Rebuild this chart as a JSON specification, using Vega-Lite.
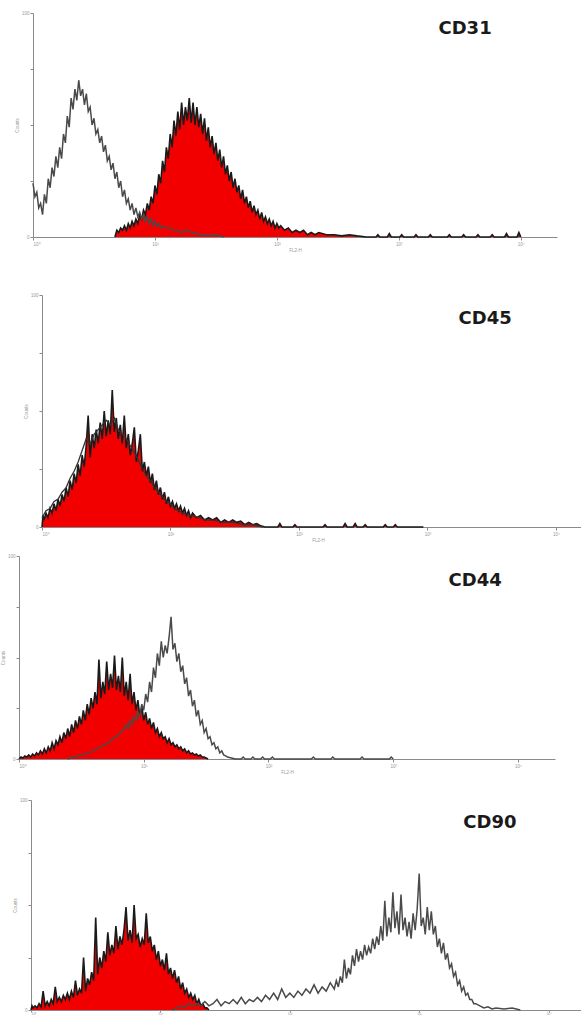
{
  "$schema": "https://vega.github.io/schema/vega-lite/v6.json",
  "padding": 0,
  "autosize": {"type": "pad"},
  "spacing": 0,
  "bounds": "flush",
  "background": "white",
  "config": {
    "view": {"stroke": null},
    "axis": {
      "grid": false,
      "domainColor": "#8a8a8a",
      "tickColor": "#8a8a8a",
      "tickSize": 3,
      "labelFontSize": 4.5,
      "labelColor": "#999999",
      "labelPadding": 1,
      "titleFontSize": 4.5,
      "titleColor": "#999999",
      "titleFontWeight": "normal",
      "titlePadding": 2
    },
    "text": {"font": "DejaVu Sans", "fontWeight": "bold", "fontSize": 18, "color": "#1a1a1a"}
  },
  "datasets": {
    "cd31_open": [
      {"ch":0,"n":24},{"ch":4,"n":18},{"ch":8,"n":20},{"ch":12,"n":13},{"ch":16,"n":15},{"ch":20,"n":10},{"ch":24,"n":19},{"ch":28,"n":15},{"ch":32,"n":26},{"ch":36,"n":22},
      {"ch":40,"n":31},{"ch":44,"n":27},{"ch":48,"n":36},{"ch":52,"n":31},{"ch":56,"n":40},{"ch":60,"n":35},{"ch":64,"n":46},{"ch":68,"n":42},{"ch":72,"n":54},{"ch":76,"n":49},
      {"ch":80,"n":62},{"ch":84,"n":57},{"ch":88,"n":66},{"ch":92,"n":61},{"ch":96,"n":70},{"ch":100,"n":63},{"ch":104,"n":66},{"ch":108,"n":59},{"ch":112,"n":64},{"ch":116,"n":56},
      {"ch":120,"n":58},{"ch":124,"n":50},{"ch":128,"n":53},{"ch":132,"n":46},{"ch":136,"n":48},{"ch":140,"n":42},{"ch":144,"n":45},{"ch":148,"n":38},{"ch":152,"n":41},{"ch":156,"n":34},
      {"ch":160,"n":36},{"ch":164,"n":30},{"ch":168,"n":33},{"ch":172,"n":26},{"ch":176,"n":29},{"ch":180,"n":22},{"ch":184,"n":25},{"ch":188,"n":18},{"ch":192,"n":21},{"ch":196,"n":15},
      {"ch":200,"n":17},{"ch":204,"n":12},{"ch":208,"n":15},{"ch":212,"n":10},{"ch":216,"n":13},{"ch":220,"n":9},{"ch":224,"n":11},{"ch":228,"n":8},{"ch":232,"n":10},{"ch":236,"n":7},
      {"ch":240,"n":9},{"ch":244,"n":6},{"ch":248,"n":8},{"ch":252,"n":5},{"ch":256,"n":7},{"ch":260,"n":5},{"ch":264,"n":6},{"ch":268,"n":4},{"ch":272,"n":5},{"ch":280,"n":4},
      {"ch":288,"n":4},{"ch":296,"n":3},{"ch":304,"n":3},{"ch":312,"n":2},{"ch":320,"n":3},{"ch":336,"n":2},{"ch":352,"n":1},{"ch":368,"n":1},{"ch":384,"n":1},{"ch":400,"n":0}
    ],
    "cd31_filled": [
      {"ch":172,"n":0},{"ch":176,"n":3},{"ch":180,"n":2},{"ch":184,"n":4},{"ch":188,"n":3},{"ch":192,"n":5},{"ch":196,"n":3},{"ch":200,"n":6},{"ch":204,"n":4},{"ch":208,"n":7},
      {"ch":212,"n":5},{"ch":216,"n":8},{"ch":220,"n":6},{"ch":224,"n":10},{"ch":228,"n":8},{"ch":232,"n":12},{"ch":236,"n":10},{"ch":240,"n":15},{"ch":244,"n":12},{"ch":248,"n":18},
      {"ch":252,"n":15},{"ch":256,"n":23},{"ch":260,"n":19},{"ch":264,"n":28},{"ch":268,"n":24},{"ch":272,"n":34},{"ch":276,"n":29},{"ch":280,"n":40},{"ch":284,"n":35},{"ch":288,"n":46},
      {"ch":292,"n":40},{"ch":296,"n":52},{"ch":300,"n":45},{"ch":304,"n":56},{"ch":308,"n":48},{"ch":312,"n":60},{"ch":316,"n":50},{"ch":320,"n":58},{"ch":324,"n":52},{"ch":328,"n":62},
      {"ch":332,"n":51},{"ch":336,"n":60},{"ch":340,"n":50},{"ch":344,"n":58},{"ch":348,"n":49},{"ch":352,"n":55},{"ch":356,"n":46},{"ch":360,"n":53},{"ch":364,"n":43},{"ch":368,"n":49},
      {"ch":372,"n":40},{"ch":376,"n":45},{"ch":380,"n":37},{"ch":384,"n":42},{"ch":388,"n":34},{"ch":392,"n":39},{"ch":396,"n":31},{"ch":400,"n":36},{"ch":404,"n":28},{"ch":408,"n":32},
      {"ch":412,"n":25},{"ch":416,"n":29},{"ch":420,"n":22},{"ch":424,"n":26},{"ch":428,"n":20},{"ch":432,"n":23},{"ch":436,"n":17},{"ch":440,"n":21},{"ch":444,"n":15},{"ch":448,"n":18},
      {"ch":452,"n":13},{"ch":456,"n":16},{"ch":460,"n":11},{"ch":464,"n":14},{"ch":468,"n":10},{"ch":472,"n":12},{"ch":476,"n":8},{"ch":480,"n":11},{"ch":484,"n":7},{"ch":488,"n":9},
      {"ch":492,"n":6},{"ch":496,"n":8},{"ch":500,"n":5},{"ch":504,"n":7},{"ch":508,"n":4},{"ch":512,"n":6},{"ch":516,"n":4},{"ch":520,"n":5},{"ch":528,"n":3},{"ch":536,"n":4},
      {"ch":544,"n":2},{"ch":552,"n":3},{"ch":560,"n":2},{"ch":568,"n":3},{"ch":576,"n":1},{"ch":584,"n":2},{"ch":592,"n":1},{"ch":600,"n":2},{"ch":616,"n":1},{"ch":632,"n":1},
      {"ch":648,"n":0.5},{"ch":664,"n":1},{"ch":680,"n":0.5},{"ch":700,"n":0},{"ch":720,"n":0},{"ch":724,"n":1},{"ch":728,"n":0},{"ch":744,"n":0},{"ch":748,"n":1.5},{"ch":752,"n":0},
      {"ch":770,"n":0},{"ch":774,"n":1},{"ch":778,"n":0},{"ch":800,"n":0},{"ch":804,"n":1},{"ch":808,"n":0},{"ch":830,"n":0},{"ch":834,"n":1},{"ch":838,"n":0},{"ch":870,"n":0},
      {"ch":874,"n":1},{"ch":878,"n":0},{"ch":900,"n":0},{"ch":904,"n":1},{"ch":908,"n":0},{"ch":930,"n":0},{"ch":934,"n":1},{"ch":938,"n":0},{"ch":960,"n":0},{"ch":964,"n":1},
      {"ch":968,"n":0},{"ch":990,"n":0},{"ch":994,"n":1.5},{"ch":998,"n":0},{"ch":1016,"n":0},{"ch":1020,"n":2},{"ch":1024,"n":0}
    ],
    "cd45_filled": [
      {"ch":0,"n":0},{"ch":2,"n":5},{"ch":4,"n":3},{"ch":8,"n":6},{"ch":12,"n":4},{"ch":16,"n":8},{"ch":20,"n":6},{"ch":24,"n":10},{"ch":28,"n":7},{"ch":32,"n":12},
      {"ch":36,"n":9},{"ch":40,"n":14},{"ch":44,"n":11},{"ch":48,"n":17},{"ch":52,"n":13},{"ch":56,"n":20},{"ch":60,"n":16},{"ch":64,"n":23},{"ch":68,"n":19},{"ch":72,"n":27},
      {"ch":76,"n":22},{"ch":80,"n":31},{"ch":84,"n":26},{"ch":88,"n":35},{"ch":92,"n":48},{"ch":96,"n":30},{"ch":100,"n":40},{"ch":104,"n":34},{"ch":108,"n":42},{"ch":112,"n":36},
      {"ch":116,"n":45},{"ch":120,"n":38},{"ch":124,"n":50},{"ch":128,"n":39},{"ch":132,"n":46},{"ch":136,"n":40},{"ch":140,"n":59},{"ch":144,"n":41},{"ch":148,"n":47},{"ch":152,"n":38},
      {"ch":156,"n":44},{"ch":160,"n":36},{"ch":164,"n":48},{"ch":168,"n":34},{"ch":172,"n":40},{"ch":176,"n":31},{"ch":180,"n":36},{"ch":184,"n":43},{"ch":188,"n":28},{"ch":192,"n":33},
      {"ch":196,"n":40},{"ch":200,"n":24},{"ch":204,"n":28},{"ch":208,"n":22},{"ch":212,"n":26},{"ch":216,"n":19},{"ch":220,"n":23},{"ch":224,"n":16},{"ch":228,"n":20},{"ch":232,"n":14},
      {"ch":236,"n":17},{"ch":240,"n":12},{"ch":244,"n":15},{"ch":248,"n":10},{"ch":252,"n":13},{"ch":256,"n":9},{"ch":260,"n":11},{"ch":264,"n":8},{"ch":268,"n":10},{"ch":272,"n":7},
      {"ch":276,"n":9},{"ch":280,"n":6},{"ch":284,"n":8},{"ch":288,"n":5},{"ch":292,"n":7},{"ch":296,"n":4},{"ch":300,"n":6},{"ch":308,"n":4},{"ch":316,"n":5},{"ch":324,"n":3},
      {"ch":332,"n":4},{"ch":340,"n":3},{"ch":348,"n":4},{"ch":356,"n":2},{"ch":364,"n":3},{"ch":372,"n":2},{"ch":380,"n":3},{"ch":388,"n":2},{"ch":396,"n":2.5},{"ch":404,"n":1},
      {"ch":412,"n":2},{"ch":420,"n":1},{"ch":428,"n":1.5},{"ch":436,"n":0.5},{"ch":444,"n":0},{"ch":470,"n":0},{"ch":474,"n":1.5},{"ch":478,"n":0},{"ch":500,"n":0},{"ch":504,"n":1},
      {"ch":508,"n":0},{"ch":560,"n":0},{"ch":564,"n":1},{"ch":568,"n":0},{"ch":600,"n":0},{"ch":604,"n":1.5},{"ch":608,"n":0},{"ch":620,"n":0},{"ch":624,"n":1.5},{"ch":628,"n":0},
      {"ch":640,"n":0},{"ch":644,"n":1},{"ch":648,"n":0},{"ch":680,"n":0},{"ch":684,"n":1},{"ch":688,"n":0},{"ch":700,"n":0},{"ch":704,"n":1},{"ch":708,"n":0},{"ch":760,"n":0}
    ],
    "cd45_open": [
      {"ch":0,"n":4},{"ch":8,"n":7},{"ch":16,"n":8},{"ch":24,"n":11},{"ch":32,"n":12},{"ch":40,"n":15},{"ch":48,"n":17},{"ch":56,"n":21},{"ch":64,"n":24},{"ch":72,"n":28},
      {"ch":80,"n":33},{"ch":88,"n":38},{"ch":96,"n":36},{"ch":104,"n":40},{"ch":112,"n":42},{"ch":120,"n":44},{"ch":128,"n":46},{"ch":136,"n":44},{"ch":144,"n":47},{"ch":152,"n":42},
      {"ch":160,"n":40},{"ch":168,"n":38},{"ch":176,"n":35},{"ch":184,"n":32},{"ch":192,"n":29},{"ch":200,"n":25},{"ch":208,"n":22},{"ch":216,"n":20},{"ch":224,"n":17},{"ch":232,"n":15},
      {"ch":240,"n":13},{"ch":248,"n":11},{"ch":256,"n":10},{"ch":264,"n":8},{"ch":272,"n":7},{"ch":280,"n":6},{"ch":296,"n":5},{"ch":312,"n":4},{"ch":328,"n":3},{"ch":344,"n":3},
      {"ch":360,"n":2},{"ch":380,"n":2},{"ch":400,"n":1},{"ch":420,"n":1},{"ch":440,"n":0}
    ],
    "cd44_filled": [
      {"ch":0,"n":0},{"ch":4,"n":1},{"ch":8,"n":0.5},{"ch":12,"n":1.5},{"ch":16,"n":1},{"ch":20,"n":2},{"ch":24,"n":1},{"ch":28,"n":2.5},{"ch":32,"n":1.5},{"ch":36,"n":3},
      {"ch":40,"n":2},{"ch":44,"n":4},{"ch":48,"n":2.5},{"ch":52,"n":5},{"ch":56,"n":3},{"ch":60,"n":6},{"ch":64,"n":4},{"ch":68,"n":8},{"ch":72,"n":5},{"ch":76,"n":9},
      {"ch":80,"n":7},{"ch":84,"n":11},{"ch":88,"n":8},{"ch":92,"n":13},{"ch":96,"n":10},{"ch":100,"n":15},{"ch":104,"n":11},{"ch":108,"n":17},{"ch":112,"n":13},{"ch":116,"n":19},
      {"ch":120,"n":15},{"ch":124,"n":21},{"ch":128,"n":17},{"ch":132,"n":24},{"ch":136,"n":19},{"ch":140,"n":27},{"ch":144,"n":22},{"ch":148,"n":30},{"ch":152,"n":25},{"ch":156,"n":33},
      {"ch":160,"n":27},{"ch":164,"n":49},{"ch":168,"n":30},{"ch":172,"n":38},{"ch":176,"n":32},{"ch":180,"n":48},{"ch":184,"n":34},{"ch":188,"n":42},{"ch":192,"n":35},{"ch":196,"n":51},
      {"ch":200,"n":34},{"ch":204,"n":41},{"ch":208,"n":33},{"ch":212,"n":50},{"ch":216,"n":31},{"ch":220,"n":38},{"ch":224,"n":29},{"ch":228,"n":42},{"ch":232,"n":27},{"ch":236,"n":33},
      {"ch":240,"n":24},{"ch":244,"n":29},{"ch":248,"n":21},{"ch":252,"n":26},{"ch":256,"n":19},{"ch":260,"n":23},{"ch":264,"n":17},{"ch":268,"n":20},{"ch":272,"n":15},{"ch":276,"n":18},
      {"ch":280,"n":13},{"ch":284,"n":15},{"ch":288,"n":11},{"ch":292,"n":13},{"ch":296,"n":10},{"ch":300,"n":11},{"ch":304,"n":8},{"ch":308,"n":10},{"ch":312,"n":7},{"ch":316,"n":8},
      {"ch":320,"n":6},{"ch":324,"n":7},{"ch":328,"n":5},{"ch":332,"n":6},{"ch":336,"n":4},{"ch":340,"n":5},{"ch":344,"n":3},{"ch":348,"n":4},{"ch":352,"n":2.5},{"ch":356,"n":3},
      {"ch":360,"n":2},{"ch":364,"n":2.5},{"ch":368,"n":1.5},{"ch":372,"n":2},{"ch":376,"n":1},{"ch":380,"n":1},{"ch":388,"n":0}
    ],
    "cd44_open": [
      {"ch":100,"n":0},{"ch":110,"n":1},{"ch":120,"n":1.5},{"ch":128,"n":2},{"ch":136,"n":2.5},{"ch":144,"n":3},{"ch":152,"n":4},{"ch":160,"n":5},{"ch":168,"n":6},{"ch":176,"n":7},
      {"ch":184,"n":8},{"ch":192,"n":10},{"ch":200,"n":11},{"ch":208,"n":13},{"ch":216,"n":15},{"ch":220,"n":17},{"ch":224,"n":15},{"ch":228,"n":19},{"ch":232,"n":17},{"ch":236,"n":21},
      {"ch":240,"n":19},{"ch":244,"n":23},{"ch":248,"n":21},{"ch":252,"n":27},{"ch":256,"n":24},{"ch":260,"n":32},{"ch":264,"n":28},{"ch":268,"n":38},{"ch":272,"n":33},{"ch":276,"n":45},
      {"ch":280,"n":40},{"ch":284,"n":52},{"ch":288,"n":46},{"ch":292,"n":58},{"ch":296,"n":50},{"ch":300,"n":56},{"ch":304,"n":52},{"ch":308,"n":60},{"ch":312,"n":70},{"ch":316,"n":54},
      {"ch":320,"n":57},{"ch":324,"n":48},{"ch":328,"n":52},{"ch":332,"n":43},{"ch":336,"n":46},{"ch":340,"n":37},{"ch":344,"n":40},{"ch":348,"n":31},{"ch":352,"n":34},{"ch":356,"n":26},
      {"ch":360,"n":29},{"ch":364,"n":21},{"ch":368,"n":24},{"ch":372,"n":17},{"ch":376,"n":19},{"ch":380,"n":13},{"ch":384,"n":15},{"ch":388,"n":10},{"ch":392,"n":11},{"ch":396,"n":7},
      {"ch":400,"n":8},{"ch":404,"n":5},{"ch":408,"n":6},{"ch":412,"n":3},{"ch":416,"n":4},{"ch":420,"n":2},{"ch":424,"n":1.5},{"ch":428,"n":1},{"ch":436,"n":0.5},{"ch":444,"n":0},
      {"ch":456,"n":0},{"ch":460,"n":1},{"ch":464,"n":0},{"ch":476,"n":0},{"ch":480,"n":1},{"ch":484,"n":0},{"ch":496,"n":0},{"ch":500,"n":1},{"ch":504,"n":0},{"ch":516,"n":0},
      {"ch":520,"n":1},{"ch":524,"n":0},{"ch":600,"n":0},{"ch":604,"n":1},{"ch":608,"n":0},{"ch":640,"n":0},{"ch":644,"n":1},{"ch":648,"n":0},{"ch":700,"n":0},{"ch":704,"n":1},
      {"ch":708,"n":0},{"ch":760,"n":0},{"ch":764,"n":1},{"ch":768,"n":0}
    ],
    "cd90_filled": [
      {"ch":0,"n":0},{"ch":2,"n":2},{"ch":4,"n":1},{"ch":8,"n":2},{"ch":12,"n":1},{"ch":16,"n":3},{"ch":20,"n":1.5},{"ch":24,"n":9},{"ch":28,"n":2},{"ch":32,"n":4},
      {"ch":36,"n":2},{"ch":40,"n":5},{"ch":44,"n":3},{"ch":48,"n":11},{"ch":52,"n":4},{"ch":56,"n":6},{"ch":60,"n":4},{"ch":64,"n":7},{"ch":68,"n":5},{"ch":72,"n":8},
      {"ch":76,"n":5},{"ch":80,"n":9},{"ch":84,"n":6},{"ch":88,"n":14},{"ch":92,"n":7},{"ch":96,"n":10},{"ch":100,"n":8},{"ch":104,"n":25},{"ch":108,"n":9},{"ch":112,"n":15},
      {"ch":116,"n":12},{"ch":120,"n":18},{"ch":124,"n":14},{"ch":128,"n":44},{"ch":132,"n":17},{"ch":136,"n":25},{"ch":140,"n":20},{"ch":144,"n":28},{"ch":148,"n":23},{"ch":152,"n":37},
      {"ch":156,"n":26},{"ch":160,"n":31},{"ch":164,"n":27},{"ch":168,"n":40},{"ch":172,"n":29},{"ch":176,"n":35},{"ch":180,"n":31},{"ch":184,"n":38},{"ch":188,"n":49},{"ch":192,"n":33},
      {"ch":196,"n":38},{"ch":200,"n":32},{"ch":204,"n":50},{"ch":208,"n":34},{"ch":212,"n":36},{"ch":216,"n":30},{"ch":220,"n":34},{"ch":224,"n":31},{"ch":228,"n":46},{"ch":232,"n":32},
      {"ch":236,"n":35},{"ch":240,"n":28},{"ch":244,"n":31},{"ch":248,"n":24},{"ch":252,"n":28},{"ch":256,"n":21},{"ch":260,"n":24},{"ch":264,"n":19},{"ch":268,"n":27},{"ch":272,"n":17},
      {"ch":276,"n":20},{"ch":280,"n":15},{"ch":284,"n":19},{"ch":288,"n":13},{"ch":292,"n":16},{"ch":296,"n":10},{"ch":300,"n":13},{"ch":304,"n":8},{"ch":308,"n":10},{"ch":312,"n":6},
      {"ch":316,"n":8},{"ch":320,"n":5},{"ch":324,"n":7},{"ch":328,"n":3},{"ch":332,"n":5},{"ch":336,"n":2},{"ch":340,"n":3},{"ch":344,"n":1},{"ch":348,"n":1},{"ch":352,"n":0}
    ],
    "cd90_open": [
      {"ch":280,"n":0},{"ch":288,"n":1},{"ch":296,"n":2},{"ch":304,"n":1},{"ch":312,"n":3},{"ch":320,"n":2},{"ch":328,"n":3},{"ch":336,"n":2},{"ch":344,"n":4},{"ch":352,"n":2},
      {"ch":360,"n":3},{"ch":368,"n":5},{"ch":376,"n":2},{"ch":384,"n":4},{"ch":392,"n":3},{"ch":400,"n":5},{"ch":408,"n":3},{"ch":416,"n":6},{"ch":424,"n":3},{"ch":432,"n":5},
      {"ch":440,"n":4},{"ch":448,"n":6},{"ch":456,"n":4},{"ch":464,"n":7},{"ch":472,"n":5},{"ch":480,"n":8},{"ch":488,"n":5},{"ch":496,"n":10},{"ch":504,"n":6},{"ch":512,"n":8},
      {"ch":520,"n":6},{"ch":528,"n":9},{"ch":536,"n":7},{"ch":544,"n":10},{"ch":552,"n":8},{"ch":560,"n":12},{"ch":568,"n":8},{"ch":576,"n":11},{"ch":584,"n":9},{"ch":592,"n":13},
      {"ch":600,"n":10},{"ch":604,"n":14},{"ch":608,"n":11},{"ch":612,"n":16},{"ch":616,"n":13},{"ch":620,"n":24},{"ch":624,"n":15},{"ch":628,"n":20},{"ch":632,"n":17},{"ch":636,"n":26},
      {"ch":640,"n":21},{"ch":644,"n":29},{"ch":648,"n":23},{"ch":652,"n":28},{"ch":656,"n":24},{"ch":660,"n":31},{"ch":664,"n":26},{"ch":668,"n":30},{"ch":672,"n":27},{"ch":676,"n":34},
      {"ch":680,"n":29},{"ch":684,"n":35},{"ch":688,"n":31},{"ch":692,"n":40},{"ch":696,"n":33},{"ch":700,"n":52},{"ch":704,"n":35},{"ch":708,"n":44},{"ch":712,"n":37},{"ch":716,"n":56},
      {"ch":720,"n":39},{"ch":724,"n":47},{"ch":728,"n":36},{"ch":732,"n":55},{"ch":736,"n":38},{"ch":740,"n":44},{"ch":744,"n":35},{"ch":748,"n":42},{"ch":752,"n":34},{"ch":756,"n":46},
      {"ch":760,"n":38},{"ch":764,"n":48},{"ch":768,"n":65},{"ch":772,"n":40},{"ch":776,"n":44},{"ch":780,"n":36},{"ch":784,"n":49},{"ch":788,"n":38},{"ch":792,"n":47},{"ch":796,"n":36},
      {"ch":800,"n":40},{"ch":804,"n":30},{"ch":808,"n":34},{"ch":812,"n":27},{"ch":816,"n":32},{"ch":820,"n":24},{"ch":824,"n":27},{"ch":828,"n":20},{"ch":832,"n":22},{"ch":836,"n":16},
      {"ch":840,"n":18},{"ch":844,"n":12},{"ch":848,"n":14},{"ch":852,"n":9},{"ch":856,"n":11},{"ch":860,"n":7},{"ch":864,"n":8},{"ch":868,"n":5},{"ch":872,"n":5},{"ch":876,"n":3},
      {"ch":880,"n":3},{"ch":888,"n":2},{"ch":896,"n":1},{"ch":904,"n":1.5},{"ch":912,"n":0.5},{"ch":920,"n":1},{"ch":936,"n":0.5},{"ch":952,"n":1},{"ch":968,"n":0}
    ]
  },
  "vconcat": [
    {
      "width": 581,
      "height": 237,
      "layer": [
        {
          "data": {"name": "cd31_filled"},
          "mark": {"type": "area", "color": "#f20000"},
          "encoding": {
            "x": {"field": "ch", "type": "quantitative", "scale": {"domain": [0, 1024], "range": [31, 555]},
              "axis": {"values": [0, 256, 512, 768, 1024], "title": "FL2-H",
                "labelExpr": "datum.value == 0 ? '10⁰' : datum.value == 256 ? '10¹' : datum.value == 512 ? '10²' : datum.value == 768 ? '10³' : '10⁴'"}},
            "y": {"field": "n", "type": "quantitative", "scale": {"domain": [0, 100], "range": [237, 13]},
              "axis": {"values": [0, 25, 50, 75, 100], "offset": -31, "title": "Counts",
                "labelExpr": "datum.value == 0 || datum.value == 100 ? datum.label : ''"}}
          }
        },
        {
          "data": {"name": "cd31_filled"},
          "mark": {"type": "line", "color": "#1a1a1a", "strokeWidth": 1.6},
          "encoding": {"x": {"field": "ch", "type": "quantitative"}, "y": {"field": "n", "type": "quantitative"}}
        },
        {
          "data": {"name": "cd31_open"},
          "mark": {"type": "line", "color": "#4a4a4a", "strokeWidth": 1.5},
          "encoding": {"x": {"field": "ch", "type": "quantitative"}, "y": {"field": "n", "type": "quantitative"}}
        },
        {
          "data": {"values": [{"label": "CD31", "ch": 907, "n": 93}]},
          "mark": {"type": "text", "align": "center", "baseline": "middle"},
          "encoding": {"x": {"field": "ch", "type": "quantitative"}, "y": {"field": "n", "type": "quantitative"}, "text": {"field": "label"}}
        }
      ]
    },
    {
      "width": 581,
      "height": 290,
      "layer": [
        {
          "data": {"name": "cd45_filled"},
          "mark": {"type": "area", "color": "#f20000"},
          "encoding": {
            "x": {"field": "ch", "type": "quantitative", "scale": {"domain": [0, 1024], "range": [40, 592]},
              "axis": {"values": [0, 256, 512, 768, 1024], "title": "FL2-H",
                "labelExpr": "datum.value == 0 ? '10⁰' : datum.value == 256 ? '10¹' : datum.value == 512 ? '10²' : datum.value == 768 ? '10³' : '10⁴'"}},
            "y": {"field": "n", "type": "quantitative", "scale": {"domain": [0, 100], "range": [290, 58]},
              "axis": {"values": [0, 25, 50, 75, 100], "offset": -40, "title": "Counts",
                "labelExpr": "datum.value == 0 || datum.value == 100 ? datum.label : ''"}}
          }
        },
        {
          "data": {"name": "cd45_filled"},
          "mark": {"type": "line", "color": "#1a1a1a", "strokeWidth": 1.6},
          "encoding": {"x": {"field": "ch", "type": "quantitative"}, "y": {"field": "n", "type": "quantitative"}}
        },
        {
          "data": {"name": "cd45_open"},
          "mark": {"type": "line", "color": "#333333", "strokeWidth": 1.3},
          "encoding": {"x": {"field": "ch", "type": "quantitative"}, "y": {"field": "n", "type": "quantitative"}}
        },
        {
          "data": {"values": [{"label": "CD45", "ch": 883, "n": 89.7}]},
          "mark": {"type": "text", "align": "center", "baseline": "middle"},
          "encoding": {"x": {"field": "ch", "type": "quantitative"}, "y": {"field": "n", "type": "quantitative"}, "text": {"field": "label"}}
        }
      ]
    },
    {
      "width": 581,
      "height": 232,
      "layer": [
        {
          "data": {"name": "cd44_filled"},
          "mark": {"type": "area", "color": "#f20000"},
          "encoding": {
            "x": {"field": "ch", "type": "quantitative", "scale": {"domain": [0, 1024], "range": [17, 553]},
              "axis": {"values": [0, 256, 512, 768, 1024], "title": "FL2-H",
                "labelExpr": "datum.value == 0 ? '10⁰' : datum.value == 256 ? '10¹' : datum.value == 512 ? '10²' : datum.value == 768 ? '10³' : '10⁴'"}},
            "y": {"field": "n", "type": "quantitative", "scale": {"domain": [0, 100], "range": [232, 29]},
              "axis": {"values": [0, 25, 50, 75, 100], "offset": -17, "title": "Counts",
                "labelExpr": "datum.value == 0 || datum.value == 100 ? datum.label : ''"}}
          }
        },
        {
          "data": {"name": "cd44_filled"},
          "mark": {"type": "line", "color": "#1a1a1a", "strokeWidth": 1.6},
          "encoding": {"x": {"field": "ch", "type": "quantitative"}, "y": {"field": "n", "type": "quantitative"}}
        },
        {
          "data": {"name": "cd44_open"},
          "mark": {"type": "line", "color": "#4a4a4a", "strokeWidth": 1.5},
          "encoding": {"x": {"field": "ch", "type": "quantitative"}, "y": {"field": "n", "type": "quantitative"}}
        },
        {
          "data": {"values": [{"label": "CD44", "ch": 936, "n": 87.7}]},
          "mark": {"type": "text", "align": "center", "baseline": "middle"},
          "encoding": {"x": {"field": "ch", "type": "quantitative"}, "y": {"field": "n", "type": "quantitative"}, "text": {"field": "label"}}
        }
      ]
    },
    {
      "width": 581,
      "height": 251,
      "layer": [
        {
          "data": {"name": "cd90_filled"},
          "mark": {"type": "area", "color": "#f20000"},
          "encoding": {
            "x": {"field": "ch", "type": "quantitative", "scale": {"domain": [0, 1024], "range": [29, 585]},
              "axis": {"values": [0, 256, 512, 768, 1024], "title": null, "tickSize": 2, "labelPadding": -1, "labelFontSize": 3.5,
                "labelExpr": "datum.value == 0 ? '10⁰' : datum.value == 256 ? '10¹' : datum.value == 512 ? '10²' : datum.value == 768 ? '10³' : '10⁴'"}},
            "y": {"field": "n", "type": "quantitative", "scale": {"domain": [0, 100], "range": [251, 41]},
              "axis": {"values": [0, 25, 50, 75, 100], "offset": -29, "title": "Counts",
                "labelExpr": "datum.value == 0 || datum.value == 100 ? datum.label : ''"}}
          }
        },
        {
          "data": {"name": "cd90_filled"},
          "mark": {"type": "line", "color": "#1a1a1a", "strokeWidth": 1.6},
          "encoding": {"x": {"field": "ch", "type": "quantitative"}, "y": {"field": "n", "type": "quantitative"}}
        },
        {
          "data": {"name": "cd90_open"},
          "mark": {"type": "line", "color": "#4a4a4a", "strokeWidth": 1.5},
          "encoding": {"x": {"field": "ch", "type": "quantitative"}, "y": {"field": "n", "type": "quantitative"}}
        },
        {
          "data": {"values": [{"label": "CD90", "ch": 908, "n": 89}]},
          "mark": {"type": "text", "align": "center", "baseline": "middle"},
          "encoding": {"x": {"field": "ch", "type": "quantitative"}, "y": {"field": "n", "type": "quantitative"}, "text": {"field": "label"}}
        }
      ]
    }
  ]
}
